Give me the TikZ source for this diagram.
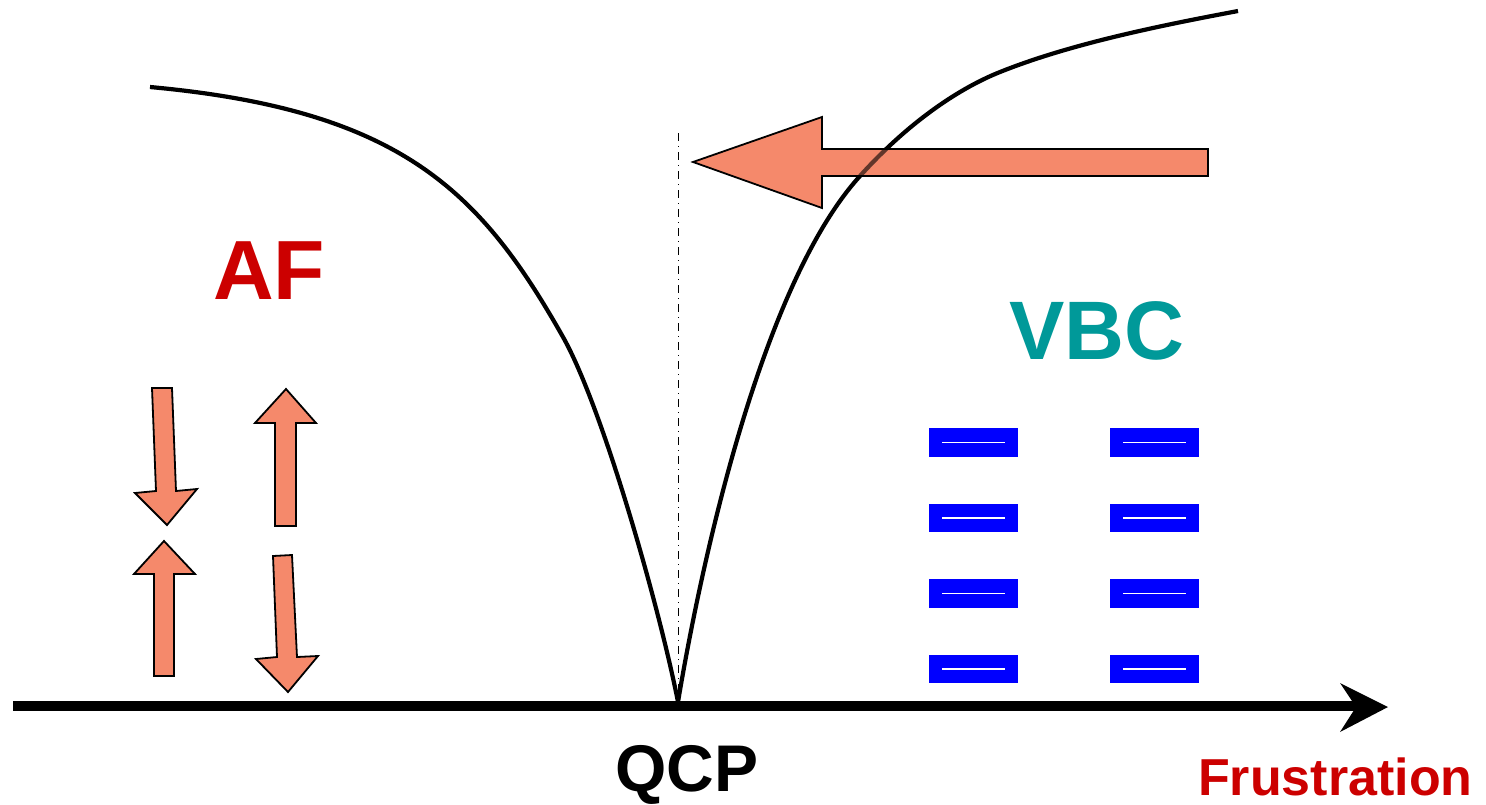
\documentclass[tikz,border=0pt]{standalone}
\usepackage{fontspec}
\setmainfont{Liberation Sans}
\definecolor{salmon}{RGB}{245,137,107}
\definecolor{afred}{RGB}{204,0,0}
\definecolor{vbcteal}{RGB}{0,153,153}
\tikzset{
  spinarrow/.style={fill=salmon,draw=black,line width=1.8pt,line join=miter},
  phasecurve/.style={line width=4.2pt},
  bondbox/.style={fill=blue,draw=none},
  bondline/.style={draw=white,line width=1.6pt},
  lbl/.style={font=\bfseries,inner sep=0pt,anchor=base west}
}
\begin{document}
\begin{tikzpicture}[x=1pt,y=-1pt]
\useasboundingbox (0,0) rectangle (1486,804);
% phase boundary curves
\draw[phasecurve] (150,87) .. controls (400,110) and (480,190) .. (563,337)
   .. controls (603,408) and (660,610) .. (678,702);
\def\rightcurve{(678,702) .. controls (700,570) and (760,286) .. (860,176)
   .. controls (905,126) and (955,90) .. (1000,72)
   .. controls (1070,44) and (1158,26) .. (1238,11)}
\draw[phasecurve] \rightcurve;
% dash-dot line at QCP
\draw[line width=1pt,dash pattern=on 8pt off 5pt on 1pt off 5pt] (678,133) -- (678,700);
% big arrow
\def\bigarrow{(693,162) -- (822,117) -- (822,149) -- (1208,149) -- (1208,176) -- (822,176) -- (822,208) -- cycle}
\draw[spinarrow] \bigarrow;
\begin{scope}
\clip \bigarrow;
\draw[phasecurve,draw opacity=0.6] \rightcurve;
\end{scope}
% axis
\draw[line width=10pt] (13,706) -- (1356,706);
\fill (1388,707) -- (1340,683) -- (1356,707) -- (1340,732) -- cycle;
% spin arrows
\draw[spinarrow] (152,388) -- (172,388) -- (176,491) -- (197,489) -- (167,525) -- (135,493) -- (156,491) -- cycle;
\draw[spinarrow] (286,389) -- (316,423) -- (296,423) -- (296,526) -- (275,526) -- (275,423) -- (255,423) -- cycle;
\draw[spinarrow] (164,541) -- (195,574) -- (174,574) -- (174,676) -- (154,676) -- (154,574) -- (134,574) -- cycle;
\draw[spinarrow] (273,556) -- (292,555) -- (297,657) -- (318,656) -- (288,692) -- (256,659) -- (277,657) -- cycle;
% valence bond boxes
\foreach \ya/\yb in {428/457,504/532,579/608,655/683}{
  \foreach \xa/\xb in {929/1018,1110/1199}{
    \fill[bondbox] (\xa,\ya) rectangle (\xb,\yb);
    \draw[bondline] ({\xa+13},{(\ya+\yb)/2}) -- ({\xb-13},{(\ya+\yb)/2});
  }
}
% labels
\node[lbl,text=afred,font=\bfseries\fontsize{84}{84}\selectfont] (af) at (213,299) {AF};
\node[lbl,text=vbcteal,font=\bfseries\fontsize{83}{83}\selectfont] (vbc) at (1009,359) {VBC};
\node[lbl,text=black,font=\bfseries\fontsize{66}{66}\selectfont] (qcp) at (615,791) {QCP};
\node[lbl,text=afred,font=\bfseries\fontsize{52}{52}\selectfont] (frus) at (1198,795) {Frustration};
\end{tikzpicture}
\end{document}
